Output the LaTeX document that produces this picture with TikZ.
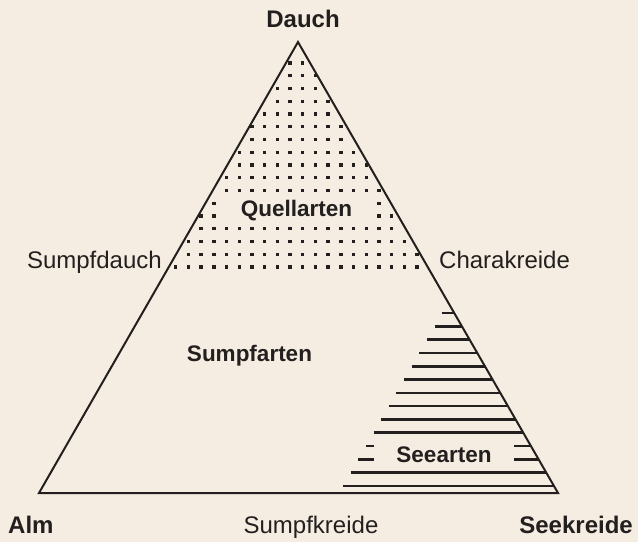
\documentclass[tikz,border=0pt]{standalone}
\usepackage{fontspec}
\setmainfont{Liberation Sans}
\definecolor{bg}{RGB}{245,237,226}
\definecolor{ink}{RGB}{35,31,30}
\begin{document}
\begin{tikzpicture}[x=1pt,y=-1pt,
  outer/.style={font=\fontsize{24}{28}\selectfont, text=ink, inner sep=0pt},
  outerb/.style={font=\fontsize{24}{28}\selectfont\bfseries, text=ink, inner sep=0pt},
  innerlbl/.style={font=\fontsize{22.5}{26}\selectfont\bfseries, text=ink},
  outline/.style={draw=ink, line width=2pt, line join=miter},
  hatch/.style={draw=ink, line width=2.6pt},
  dotfill/.style={fill=ink}]
\fill[bg] (0,0) rectangle (638,542);
\useasboundingbox (0,0) rectangle (638,542);
\coordinate (A) at (298,42);
\coordinate (L) at (39,493);
\coordinate (R) at (558,493);
% dotted region (Quellarten)
\foreach \j in {0,...,16}{
  \pgfmathsetmacro\yy{63+12.75*\j}
  \pgfmathsetmacro\hw{(\yy-42)*0.5743-1.5}
  \foreach \k in {-10,...,11}{
    \pgfmathsetmacro\xx{290+12.7*\k}
    \pgfmathtruncatemacro\ok{abs(\xx-298)<\hw ? 1 : 0}
    \ifnum\ok=1 \fill[dotfill] ({\xx-1.7},{\yy-1.7}) rectangle ({\xx+1.7},{\yy+1.7}); \fi
  }
}
% hatched region (Seearten)
\begin{scope}
  \clip (A) -- (L) -- (R) -- cycle;
  \foreach \i in {0,...,13}{
    \pgfmathsetmacro\yy{313+13.3*\i}
    \pgfmathsetmacro\xl{448-(\yy-303)*0.5743}
    \draw[hatch] (\xl,\yy) -- (600,\yy);
  }
\end{scope}
% inner labels
\node[innerlbl, anchor=base, fill=bg, minimum width=152pt, text height=17pt, text depth=5pt, inner ysep=3pt, inner xsep=0pt] (quell) at (296.5,216) {Quellarten};
\node[innerlbl, anchor=base, inner sep=0pt] (sumpf) at (249.5,361) {Sumpfarten};
\node[innerlbl, anchor=base, fill=bg, minimum width=140pt, text height=19pt, text depth=1pt, inner ysep=3pt, inner xsep=0pt] (seearten) at (444,462) {Seearten};
% triangle
\draw[outline] (A) -- (L) -- (R) -- cycle;
% outer labels
\node[outerb, anchor=base] (dauch) at (303,27) {Dauch};
\node[outer, anchor=base east] (sd) at (162,268) {Sumpfdauch};
\node[outer, anchor=base west] (ck) at (439,268) {Charakreide};
\node[outerb, anchor=base west] (alm) at (8,533) {Alm};
\node[outer, anchor=base] (sk) at (311,533) {Sumpfkreide};
\node[outerb, anchor=base east] (see) at (633,533) {Seekreide};
\end{tikzpicture}
\end{document}
